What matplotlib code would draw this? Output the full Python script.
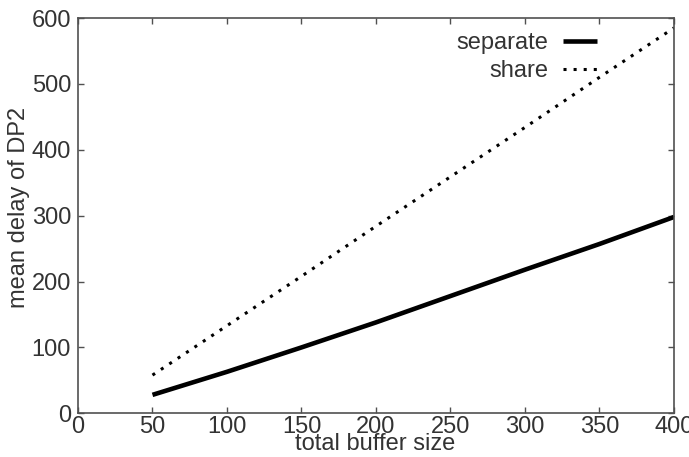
import matplotlib
matplotlib.use("Agg")
import matplotlib.pyplot as plt

# data
buffer_size = [50, 100, 150, 200, 250, 300, 350, 400]
delay_separate = [28, 63, 100, 138, 178, 218, 257, 298]
delay_share = [58, 133, 208, 284, 359, 434, 510, 585]

plt.rcParams['font.family'] = ['Liberation Sans', 'DejaVu Sans']

fig = plt.figure(figsize=(6.89, 4.57), dpi=100)
ax = fig.add_axes([0.1132, 0.0956, 0.865, 0.865])

ax.plot(buffer_size, delay_separate, color='black', lw=3.3, label='separate',
        solid_capstyle='butt')
ax.plot(buffer_size, delay_share, color='black', lw=2.2, label='share',
        linestyle=(0, (1, 2.3)), dash_capstyle='butt')

ax.set_xlim(0, 400)
ax.set_ylim(0, 600)
ax.set_xticks(range(0, 401, 50))
ax.set_yticks(range(0, 601, 100))

for s in ax.spines.values():
    s.set_color('#505050')
    s.set_linewidth(1.2)
ax.tick_params(direction='in', length=4, width=1, colors='#505050',
               labelcolor='#333333', labelsize=17, top=True, right=True,
               pad=2)
ax.tick_params(axis='y', pad=5)

ax.set_xlabel('total buffer size', fontsize=17, color='#333333')
ax.set_ylabel('mean delay of DP2', fontsize=17, color='#333333')
ax.xaxis.set_label_coords(0.498, -0.05)
ax.yaxis.set_label_coords(-0.08, 0.522)

leg = ax.legend(loc='upper right', bbox_to_anchor=(0.871, 0.965),
                frameon=False, markerfirst=False, fontsize=17,
                handlelength=1.45, handletextpad=0.6, labelspacing=0.28,
                borderpad=0, borderaxespad=0)
for t in leg.get_texts():
    t.set_color('#333333')

fig.savefig('out.png', dpi=100)
